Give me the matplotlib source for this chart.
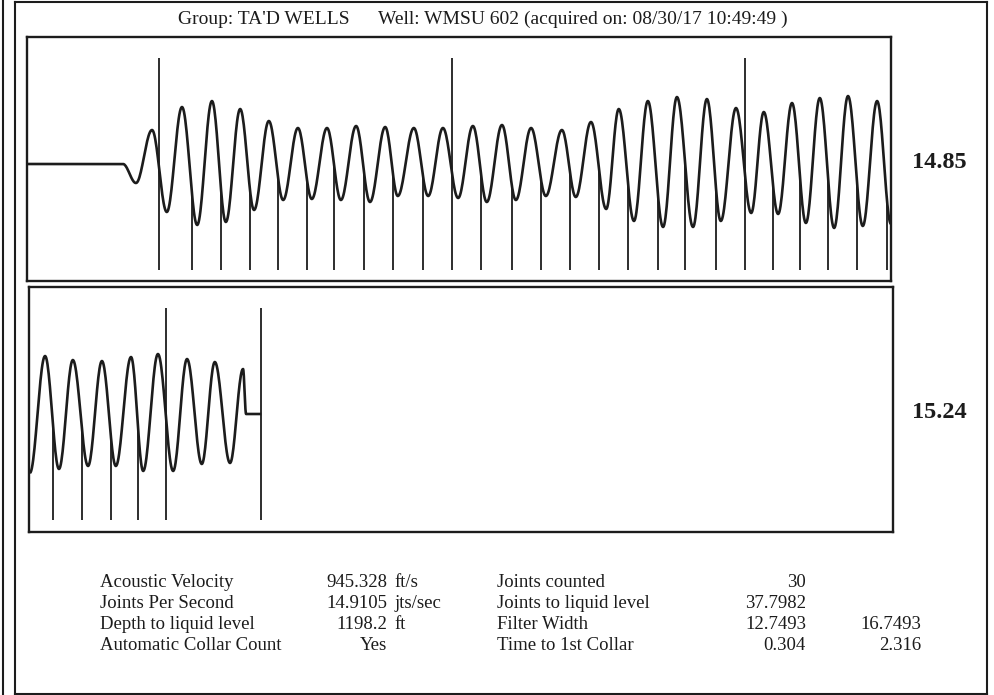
import numpy as np
import matplotlib
matplotlib.use('Agg')
import matplotlib.pyplot as plt
from matplotlib.lines import Line2D

plt.rcParams['font.family'] = ['Liberation Serif', 'DejaVu Serif']

# --------------------------------------
# Экстремумы отфильтрованного сигнала (время, с / амплитуда), верхняя трасса
top_t = [0.0, 0.221, 0.251, 0.288, 0.322, 0.357, 0.392, 0.426, 0.458, 0.491,
         0.523, 0.557, 0.590, 0.624, 0.656, 0.691, 0.723, 0.758, 0.790, 0.825,
         0.854, 0.891, 0.924, 0.958, 0.993, 1.027, 1.059, 1.094, 1.126, 1.161,
         1.195, 1.232, 1.264, 1.299, 1.334, 1.363, 1.398, 1.430, 1.465, 1.497,
         1.534, 1.566, 1.598, 1.633, 1.668, 1.697, 1.730, 1.762, 1.794, 1.826,
         1.859, 1.891, 1.925, 1.958, 1.990]
top_a = [0, 0, -19, 34, -48, 57, -61, 63, -58, 55,
         -46, 43, -36, 36, -35, 36, -36, 38, -38, 37,
         -32, 36, -32, 36, -34, 38, -38, 39, -36, 36,
         -32, 34, -33, 42, -45, 55, -57, 63, -63, 67,
         -63, 65, -57, 56, -49, 52, -50, 61, -59, 66,
         -64, 68, -62, 63, -60]

# нижняя трасса (продолжение по времени)
bot_t = [2.002, 2.037, 2.069, 2.101, 2.136, 2.168, 2.200, 2.235, 2.263, 2.297,
         2.332, 2.364, 2.398, 2.428, 2.463, 2.493, 2.500, 2.535]
bot_a = [-59, 58, -55, 54, -52, 53, -52, 57, -57, 60,
         -57, 55, -50, 52, -49, 45, 0, 0]

# муфты (collars), каждая 10-я - длинная линия
collars = [0.304, 0.380, 0.447, 0.514, 0.578, 0.645, 0.707, 0.776, 0.843, 0.912,
           0.979, 1.046, 1.117, 1.184, 1.251, 1.317, 1.384, 1.453, 1.515, 1.587,
           1.654, 1.718, 1.780, 1.845, 1.912, 1.981, 2.055, 2.122, 2.189, 2.251,
           2.316]
liquid_level = 2.535

title_left = "Group: TA'D WELLS"
title_right = "Well: WMSU 602 (acquired on: 08/30/17 10:49:49 )"
panel_labels = ['14.85', '15.24']

names1 = ['Acoustic Velocity', 'Joints Per Second', 'Depth to liquid level', 'Automatic Collar Count']
values1 = ['945.328', '14.9105', '1198.2', 'Yes']
units1 = ['ft/s', 'jts/sec', 'ft', '']
names2 = ['Joints counted', 'Joints to liquid level', 'Filter Width', 'Time to 1st Collar']
values2 = ['30', '37.7982', '12.7493', '0.304']
values3 = ['', '', '16.7493', '2.316']


def smooth(ts, amps, n=24):
    # полукосинусные дуги между соседними экстремумами
    xs, ys = [], []
    for i in range(len(ts) - 1):
        s = np.linspace(0, 1, n)
        xs.append(ts[i] + (ts[i + 1] - ts[i]) * s)
        ys.append(amps[i] + (amps[i + 1] - amps[i]) * (1 - np.cos(np.pi * s)) / 2)
    return np.concatenate(xs), np.concatenate(ys)


W, H = 994, 695
fig = plt.figure(figsize=(W / 100, H / 100), dpi=100)
ink = '#1c1c1c'
fs = 13.5


def px_axes(x0, y0, x1, y1):
    return fig.add_axes([x0 / W, 1 - y1 / H, (x1 - x0) / W, (y1 - y0) / H])


ax1 = px_axes(27, 37, 891, 281)
ax2 = px_axes(29, 287, 893, 532)

panels = [(ax1, top_t, top_a, (0.0, 1.99), (-117, 127)),
          (ax2, bot_t, bot_a, (2.0, 3.99), (-118, 127))]

for ax, ts, amps, xl, yl in panels:
    cx, cy = smooth(ts, amps)
    ax.plot(cx, cy, color=ink, lw=1.9, solid_capstyle='butt')
    lo, hi = xl
    for k, c in enumerate(collars):
        if not (lo <= c <= hi):
            continue
        if k % 10 == 0:
            ax.vlines(c, -106, 106, color=ink, lw=1.3)
        else:
            ax.vlines(c, np.interp(c, cx, cy), -106, color=ink, lw=1.3)
    if lo <= liquid_level <= hi:
        ax.vlines(liquid_level, -106, 106, color=ink, lw=1.3)
    ax.set_xlim(xl)
    ax.set_ylim(yl)
    ax.set_xticks([])
    ax.set_yticks([])
    for sp in ax.spines.values():
        sp.set_linewidth(1.7)
        sp.set_color(ink)

# подписи справа от панелей
fig.text(939 / W, 1 - 163 / H, panel_labels[0], ha='center', va='center',
         fontsize=17.5, fontweight='bold', color=ink)
fig.text(939 / W, 1 - 413 / H, panel_labels[1], ha='center', va='center',
         fontsize=17.5, fontweight='bold', color=ink)

# заголовок
fig.text(178 / W, 1 - 19 / H, title_left, ha='left', va='center', fontsize=14, color=ink)
fig.text(378 / W, 1 - 19 / H, title_right, ha='left', va='center', fontsize=14, color=ink)

# таблица параметров (выравнивание по базовой линии, шаг 21 px)
rows_y = [587, 608, 629, 650]
for i, y in enumerate(rows_y):
    fy = 1 - y / H
    fig.text(100 / W, fy, names1[i], ha='left', va='baseline', fontsize=fs, color=ink)
    fig.text(387 / W, fy, values1[i], ha='right', va='baseline', fontsize=fs, color=ink)
    fig.text(394 / W, fy, units1[i], ha='left', va='baseline', fontsize=fs, color=ink)
    fig.text(497 / W, fy, names2[i], ha='left', va='baseline', fontsize=fs, color=ink)
    fig.text(806 / W, fy, values2[i], ha='right', va='baseline', fontsize=fs, color=ink)
    fig.text(921 / W, fy, values3[i], ha='right', va='baseline', fontsize=fs, color=ink)

# внешняя рамка
frame = [((15, 15), (2, 694)), ((3, 3), (0, 695)), ((15, 987), (2, 2)),
         ((987, 987), (2, 694)), ((15, 987), (694, 694))]
for xs, ys in frame:
    fig.add_artist(Line2D([x / W for x in xs], [1 - y / H for y in ys],
                          color=ink, lw=1.5))

fig.savefig('out.png', dpi=100)
